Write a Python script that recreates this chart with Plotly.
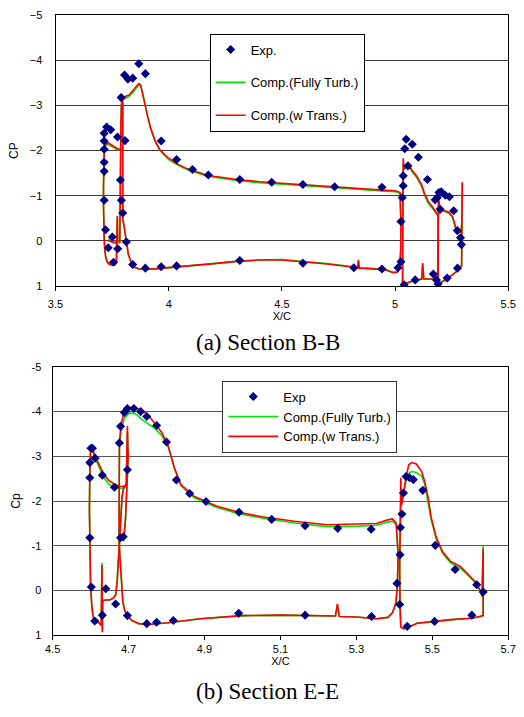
import plotly.graph_objects as go

# ---------------- Section B-B ----------------
bb_exp_x = [3.715, 3.715, 3.715, 3.726, 3.744, 3.715, 3.715, 3.715, 3.721, 3.733, 3.751, 3.756, 3.775,
            3.774, 3.790, 3.805, 3.820, 3.841, 3.868, 3.897, 3.807, 3.787, 3.791, 3.797, 3.813, 3.841,
            3.897, 3.967, 4.035, 4.314, 3.967, 4.035, 4.105, 4.175, 4.314, 4.455, 4.593, 4.733, 4.942,
            4.593, 4.818, 4.942, 5.013, 5.026, 5.026, 5.032, 5.036, 5.036, 5.043, 5.049, 5.076, 5.057,
            5.103, 5.143, 5.040, 5.089, 5.169, 5.183, 5.190, 5.230, 5.276, 5.177, 5.187, 5.194, 5.204,
            5.222, 5.240, 5.199, 5.259, 5.275, 5.289, 5.293]
bb_exp_cp = [-2.03, -2.21, -2.38, -2.52, -2.46, -1.74, -1.54, -0.90, -0.25, 0.15, -0.09, 0.47, 0.17,
             -2.30, -3.17, -3.67, -3.58, -3.60, -3.92, -3.70, -2.22, -1.35, -0.90, -0.62, 0.02, 0.52,
             0.60, 0.57, 0.55, 0.43, -2.21, -1.80, -1.58, -1.46, -1.36, -1.30, -1.25, -1.20, -1.19,
             0.49, 0.59, 0.62, 0.59, 0.46, -0.43, -0.96, -1.22, -1.44, -2.04, -2.25, -2.14, -1.66,
             -1.85, -1.36, 0.97, 0.86, 0.73, 0.86, 0.95, 0.82, 0.60, -0.91, -0.96, -1.07, -1.09,
             -1.01, -0.98, -0.70, -0.67, -0.23, -0.07, 0.08]

# slat
bb_slat_x = [3.797, 3.785, 3.770, 3.755, 3.742, 3.733, 3.725, 3.719, 3.715, 3.713, 3.712, 3.712, 3.713,
             3.715, 3.718, 3.722, 3.728, 3.736, 3.746, 3.756, 3.764, 3.769, 3.771, 3.773, 3.775, 3.765,
             3.752, 3.740, 3.733]
bb_slat_turb = [-2.00, -2.01, -2.03, -2.07, -2.11, -2.13, -2.13, -2.08, -1.93, -1.60, -1.20, -0.80, -0.40,
                -0.05, 0.20, 0.36, 0.46, 0.51, 0.53, 0.53, 0.52, 0.47, 0.09, -0.52, 0.02, 0.02,
                0.00, -0.02, -0.04]
bb_slat_trans = [-2.00, -2.02, -2.05, -2.10, -2.15, -2.17, -2.16, -2.10, -1.95, -1.60, -1.20, -0.80, -0.40,
                 -0.05, 0.20, 0.36, 0.46, 0.51, 0.53, 0.53, 0.52, 0.47, 0.09, -0.56, 0.04, 0.05,
                 0.03, 0.01, -0.01]

# main element
bb_main_x = [3.797, 3.797, 3.796, 3.795, 3.797, 3.800, 3.805, 3.812, 3.822, 3.835, 3.850, 3.870, 3.900,
             3.950, 4.000, 4.100, 4.200, 4.300, 4.400, 4.500, 4.600, 4.700, 4.800, 4.835, 4.838, 4.842,
             4.880, 4.920, 4.960, 4.990, 5.010, 5.020, 5.025, 5.026, 5.024, 5.022,
             5.015, 5.000, 4.960, 4.900, 4.800, 4.700, 4.600, 4.500, 4.400, 4.300, 4.250, 4.200, 4.160,
             4.120, 4.080, 4.040, 4.000, 3.980, 3.960, 3.940, 3.920, 3.905, 3.895, 3.885, 3.876, 3.868,
             3.855, 3.840, 3.825, 3.810, 3.800, 3.794, 3.791, 3.789, 3.787, 3.786, 3.785, 3.784]
bb_main_turb = [-3.05, -2.50, -1.50, -0.70, -0.45, -0.42, -0.25, 0.05, 0.30, 0.48, 0.58, 0.62, 0.63,
                0.61, 0.59, 0.55, 0.50, 0.45, 0.42, 0.41, 0.45, 0.50, 0.56, 0.59, 0.44, 0.59,
                0.60, 0.61, 0.63, 0.69, 0.68, 0.60, 0.20, -0.40, -0.90, -1.05,
                -1.07, -1.09, -1.10, -1.12, -1.15, -1.18, -1.22, -1.25, -1.29, -1.34, -1.37, -1.41, -1.45,
                -1.51, -1.58, -1.68, -1.80, -1.90, -2.01, -2.20, -2.49, -2.80, -3.05, -3.28, -3.43, -3.45,
                -3.37, -3.27, -3.20, -3.16, -3.13, -3.08, -2.95, -2.55, -1.95, -1.20, -0.50, 0.05]
bb_main_trans = [-3.10, -2.50, -1.50, -0.70, -0.45, -0.42, -0.25, 0.05, 0.30, 0.48, 0.58, 0.62, 0.63,
                 0.61, 0.59, 0.55, 0.50, 0.45, 0.42, 0.42, 0.46, 0.51, 0.57, 0.60, 0.42, 0.60,
                 0.61, 0.62, 0.64, 0.70, 0.69, 0.60, 0.20, -0.40, -0.90, -1.07,
                 -1.09, -1.11, -1.12, -1.14, -1.17, -1.20, -1.24, -1.27, -1.31, -1.36, -1.39, -1.43, -1.47,
                 -1.53, -1.60, -1.70, -1.83, -1.92, -2.03, -2.22, -2.50, -2.80, -3.05, -3.30, -3.45, -3.48,
                 -3.40, -3.30, -3.23, -3.20, -3.17, -3.12, -3.00, -2.60, -2.00, -1.20, -0.50, 0.05]

# first flap
bb_flap1_x = [5.033, 5.034, 5.036, 5.040, 5.050, 5.060, 5.074, 5.096, 5.117, 5.132, 5.146, 5.167,
              5.184, 5.190, 5.191, 5.190, 5.167, 5.127, 5.122, 5.118, 5.082, 5.050, 5.033]
bb_flap1_turb = [0.96, -0.50, -1.70, -1.58, -1.63, -1.65, -1.54, -1.40, -1.21, -0.99, -0.84, -0.71,
                 -0.60, -0.55, 0.00, 0.82, 0.84, 0.84, 0.52, 0.84, 0.88, 0.93, 0.96]
bb_flap1_trans = [0.96, -0.50, -1.83, -1.60, -1.66, -1.68, -1.57, -1.43, -1.25, -1.03, -0.88, -0.74,
                  -0.62, -0.56, 0.00, 0.82, 0.84, 0.84, 0.49, 0.84, 0.88, 0.93, 0.96]

# second flap
bb_flap2_x = [5.188, 5.189, 5.190, 5.192, 5.196, 5.200, 5.219, 5.240, 5.255, 5.269, 5.283, 5.292,
              5.295, 5.297, 5.296, 5.295, 5.294, 5.284, 5.270, 5.250, 5.225, 5.205, 5.188]
bb_flap2_turb = [0.97, 0.30, -0.50, -0.90, -0.78, -0.68, -0.65, -0.61, -0.51, -0.26, -0.19, -0.19,
                 -0.40, -1.28, -0.50, 0.20, 0.55, 0.60, 0.68, 0.76, 0.84, 0.92, 0.97]
bb_flap2_trans = [0.97, 0.30, -0.50, -0.92, -0.80, -0.70, -0.67, -0.63, -0.53, -0.27, -0.20, -0.20,
                  -0.40, -1.30, -0.50, 0.20, 0.55, 0.60, 0.68, 0.76, 0.84, 0.92, 0.97]

# ---------------- Section E-E ----------------
ee_exp_x = [4.598, 4.598, 4.601, 4.605, 4.612, 4.631, 4.663, 4.598, 4.602, 4.611, 4.631, 4.640, 4.666,
            4.676, 4.679, 4.689, 4.697, 4.714, 4.732, 4.748, 4.774, 4.800, 4.826, 4.861, 4.904,
            4.991, 5.077, 5.165, 5.251, 5.339, 4.697, 4.679, 4.686, 4.697, 4.748, 4.774, 4.818,
            4.990, 5.165, 5.340, 5.407, 5.415, 5.416, 5.420, 5.424, 5.431, 5.440, 5.450, 5.475,
            5.508, 5.560, 5.617, 5.634, 5.414, 5.434, 5.506, 5.604]
ee_exp_cp = [-2.86, -2.52, -3.18, -3.18, -2.96, -2.58, -2.31, -1.18, -0.08, 0.68, 0.55, -0.04, 0.30,
             -3.30, -3.67, -3.98, -4.07, -4.07, -4.00, -3.89, -3.69, -3.32, -2.47, -2.17, -1.99,
             -1.75, -1.59, -1.45, -1.39, -1.37, -2.70, -1.18, -1.20, 0.56, 0.74, 0.71, 0.67,
             0.51, 0.55, 0.58, -0.16, -0.80, -1.41, -1.71, -2.18, -2.55, -2.52, -2.48, -2.24,
             -1.01, -0.47, -0.13, 0.03, 0.31, 0.80, 0.69, 0.55]

ee_slat_x = [4.690, 4.676, 4.662, 4.648, 4.635, 4.625, 4.615, 4.608, 4.603, 4.600, 4.598, 4.597, 4.598,
             4.600, 4.603, 4.606, 4.610, 4.615, 4.620, 4.625, 4.628, 4.630, 4.631, 4.632, 4.640, 4.650,
             4.660, 4.666, 4.670, 4.674, 4.678, 4.683, 4.688, 4.690, 4.694, 4.697, 4.699, 4.696, 4.692,
             4.688]
ee_slat_turb = [-2.30, -2.28, -2.31, -2.38, -2.52, -2.70, -2.90, -3.06, -3.12, -3.08, -2.60, -1.80, -0.90,
                -0.10, 0.30, 0.55, 0.68, 0.72, 0.70, 0.74, 0.78, -0.62, 0.90, 0.22, 0.21, 0.21,
                0.17, 0.10, -0.20, -0.80, -1.50, -2.10, -2.31, -2.30, -2.38, -3.55, -2.95, -2.30, -1.60,
                -1.20]
ee_slat_trans = [-2.32, -2.33, -2.38, -2.46, -2.60, -2.76, -2.95, -3.10, -3.16, -3.12, -2.60, -1.80, -0.90,
                 -0.10, 0.30, 0.55, 0.68, 0.72, 0.70, 0.74, 0.78, -0.57, 0.93, 0.22, 0.21, 0.21,
                 0.17, 0.10, -0.20, -0.80, -1.50, -2.10, -2.33, -2.32, -2.40, -3.68, -3.00, -2.30, -1.60,
                 -1.20]

ee_main_x = [4.675, 4.675, 4.676, 4.680, 4.689, 4.702, 4.719, 4.736, 4.753, 4.770, 4.787, 4.804, 4.821,
             4.838, 4.872, 4.931, 4.990, 5.051, 5.137, 5.222, 5.307, 5.353, 5.383, 5.395, 5.405,
             5.410, 5.408, 5.404, 5.395, 5.383, 5.353, 5.300, 5.255, 5.250, 5.245, 5.200, 5.100,
             5.000, 4.931, 4.889, 4.804, 4.753, 4.727, 4.709, 4.697, 4.690, 4.685, 4.680, 4.677, 4.675]
ee_main_turb = [-1.20, -2.50, -3.25, -3.55, -3.85, -3.97, -3.95, -3.82, -3.72, -3.62, -3.47, -3.22, -2.72,
                -2.34, -2.08, -1.86, -1.72, -1.62, -1.51, -1.43, -1.44, -1.46, -1.53, -1.55, -1.47,
                -0.80, -0.09, 0.28, 0.50, 0.60, 0.63, 0.59, 0.58, 0.32, 0.57, 0.56, 0.55,
                0.56, 0.60, 0.63, 0.72, 0.76, 0.74, 0.67, 0.56, 0.45, 0.25, -0.30, -0.80, -1.20]
ee_main_trans = [-1.20, -2.50, -3.30, -3.69, -4.02, -4.09, -4.09, -4.02, -3.91, -3.73, -3.54, -3.25, -2.74,
                 -2.37, -2.11, -1.89, -1.75, -1.65, -1.55, -1.47, -1.49, -1.50, -1.58, -1.60, -1.50,
                 -0.80, -0.09, 0.28, 0.50, 0.60, 0.63, 0.59, 0.58, 0.30, 0.57, 0.56, 0.55,
                 0.56, 0.60, 0.63, 0.72, 0.76, 0.74, 0.67, 0.56, 0.45, 0.25, -0.30, -0.80, -1.20]

ee_flap_x = [5.417, 5.415, 5.414, 5.415, 5.417, 5.419, 5.424, 5.431, 5.438, 5.446, 5.458, 5.472, 5.480,
             5.489, 5.497, 5.510, 5.527, 5.548, 5.574, 5.591, 5.616, 5.627, 5.631, 5.634, 5.635, 5.634,
             5.625, 5.604, 5.550, 5.506, 5.460, 5.434, 5.425, 5.417]
ee_flap_turb = [0.82, 0.30, -0.50, -1.50, -1.90, -1.95, -2.15, -2.45, -2.62, -2.66, -2.64, -2.56, -2.38,
                -2.00, -1.58, -1.16, -0.84, -0.62, -0.50, -0.37, -0.15, 0.03, 0.14, -1.02, 0.10, 0.56,
                0.58, 0.62, 0.65, 0.69, 0.73, 0.83, 0.85, 0.82]
ee_flap_trans = [0.82, 0.30, -0.50, -1.50, -2.52, -1.90, -2.20, -2.55, -2.81, -2.86, -2.83, -2.66, -2.44,
                 -2.08, -1.64, -1.20, -0.87, -0.65, -0.54, -0.39, -0.17, 0.01, 0.12, -0.94, 0.10, 0.56,
                 0.58, 0.62, 0.65, 0.69, 0.73, 0.83, 0.85, 0.82]

cp_ticks = [-5, -4, -3, -2, -1, 0, 1]
bb_cp_text = ["\u22125", "\u22124", "\u22123", "\u22122", "\u22121", "0", "1"]
ee_cp_text = ["-5", "-4", "-3", "-2", "-1", "0", "1"]
bb_x_ticks = [3.5, 4, 4.5, 5, 5.5]
bb_x_text = ["3.5", "4", "4.5", "5", "5.5"]
ee_x_ticks = [4.5, 4.7, 4.9, 5.1, 5.3, 5.5, 5.7]
ee_x_text = ["4.5", "4.7", "4.9", "5.1", "5.3", "5.5", "5.7"]

labels_bb = ["Exp.", "Comp.(Fully Turb.)", "Comp.(w Trans.)"]
labels_ee = ["Exp", "Comp.(Fully Turb.)", "Comp.(w Trans.)"]


def join(*parts):
    """Chain element curves with gaps between them."""
    out = []
    for i, p in enumerate(parts):
        if i:
            out.append(None)
        out.extend(p)
    return out


SANS = "Liberation Sans, Arial, sans-serif"
SERIF = "Liberation Serif, Times New Roman, serif"
GREEN = "#00E600"
RED = "#FF0000"
NAVY = "#000080"

fig = go.Figure()

sections = [
    dict(xa="x", ya="y", leg="legend", labels=labels_bb,
         x=join(bb_slat_x, bb_main_x, bb_flap1_x, bb_flap2_x),
         turb=join(bb_slat_turb, bb_main_turb, bb_flap1_turb, bb_flap2_turb),
         trans=join(bb_slat_trans, bb_main_trans, bb_flap1_trans, bb_flap2_trans),
         ex=bb_exp_x, ecp=bb_exp_cp),
    dict(xa="x2", ya="y2", leg="legend2", labels=labels_ee,
         x=join(ee_slat_x, ee_main_x, ee_flap_x),
         turb=join(ee_slat_turb, ee_main_turb, ee_flap_turb),
         trans=join(ee_slat_trans, ee_main_trans, ee_flap_trans),
         ex=ee_exp_x, ecp=ee_exp_cp),
]

for s in sections:
    fig.add_trace(go.Scatter(x=s["x"], y=s["turb"], mode="lines", name=s["labels"][1],
                             line=dict(color=GREEN, width=1.6), connectgaps=False,
                             xaxis=s["xa"], yaxis=s["ya"], legend=s["leg"],
                             legendrank=2, legendgroup=s["leg"] + "b"))
    fig.add_trace(go.Scatter(x=s["x"], y=s["trans"], mode="lines", name=s["labels"][2],
                             line=dict(color=RED, width=1.6), connectgaps=False,
                             xaxis=s["xa"], yaxis=s["ya"], legend=s["leg"],
                             legendrank=3, legendgroup=s["leg"] + "c"))
    fig.add_trace(go.Scatter(x=s["ex"], y=s["ecp"], mode="markers", name=s["labels"][0],
                             marker=dict(symbol="diamond", size=7, color=NAVY),
                             xaxis=s["xa"], yaxis=s["ya"], legend=s["leg"],
                             legendrank=1, legendgroup=s["leg"] + "a"))

W, H = 524, 717

axis_common = dict(showline=True, mirror=True, linecolor="black", linewidth=1,
                   tickfont=dict(family=SANS, size=11, color="black"))

fig.update_layout(
    width=W, height=H, margin=dict(l=0, r=0, t=0, b=0),
    paper_bgcolor="white", plot_bgcolor="white",
    showlegend=True,
    xaxis=dict(domain=[49 / W, 516 / W], range=[3.5, 5.5], tickvals=bb_x_ticks, ticktext=bb_x_text,
               ticks="outside", ticklen=4, tickcolor="black", showgrid=False, zeroline=False,
               ticklabelstandoff=4, anchor="y",
               title=dict(text="X/C", font=dict(family=SANS, size=11, color="black"), standoff=1),
               **axis_common),
    yaxis=dict(domain=[1 - 285 / H, 1 - 9 / H], range=[1, -5], tickvals=cp_ticks, ticktext=bb_cp_text,
               showgrid=True, gridcolor="#3a3a3a", gridwidth=1, zeroline=False, ticks="",
               ticklabelstandoff=10, anchor="x",
               title=dict(text="CP", font=dict(family=SANS, size=12, color="black"), standoff=8),
               **axis_common),
    xaxis2=dict(domain=[46 / W, 516 / W], range=[4.5, 5.7], tickvals=ee_x_ticks, ticktext=ee_x_text,
                ticks="outside", ticklen=4, tickcolor="black", showgrid=False, zeroline=False,
                anchor="y2",
                title=dict(text="X/C", font=dict(family=SANS, size=11, color="black"), standoff=2),
                **axis_common),
    yaxis2=dict(domain=[1 - 640 / H, 1 - 367 / H], range=[1, -5], tickvals=cp_ticks, ticktext=ee_cp_text,
                showgrid=True, gridcolor="#555555", gridwidth=1, zeroline=False, ticks="",
                ticklabelstandoff=8, anchor="x2",
                title=dict(text="Cp", font=dict(family=SANS, size=12, color="black"), standoff=8),
                **axis_common),
    legend=dict(x=208 / W, y=1 - 28 / H, xanchor="left", yanchor="top",
                bgcolor="white", bordercolor="black", borderwidth=1,
                font=dict(family=SANS, size=13, color="black"),
                tracegroupgap=13, itemwidth=30),
    legend2=dict(x=221 / W, y=1 - 381 / H, xanchor="left", yanchor="top",
                 bgcolor="white", bordercolor="#333333", borderwidth=1,
                 font=dict(family=SANS, size=13, color="black"),
                 tracegroupgap=0, itemwidth=50),
    annotations=[
        dict(text="(a) Section B-B", x=268 / W, y=1 - 342 / H, xref="paper", yref="paper",
             xanchor="center", yanchor="middle", showarrow=False,
             font=dict(family=SERIF, size=23, color="black")),
        dict(text="(b) Section E-E", x=268 / W, y=1 - 697 / H, xref="paper", yref="paper",
             xanchor="center", yanchor="middle", showarrow=False,
             font=dict(family=SERIF, size=23, color="black")),
    ],
)

fig.write_html("out.html")
